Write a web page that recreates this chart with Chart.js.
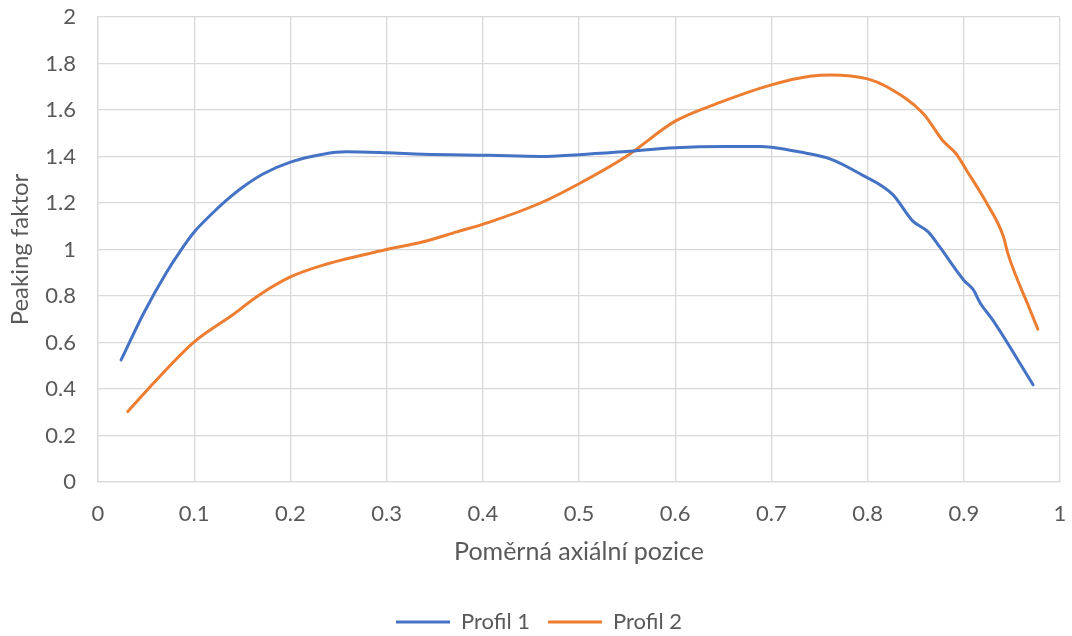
<!DOCTYPE html>
<html>
<head>
<meta charset="utf-8">
<script src="https://cdn.jsdelivr.net/npm/chart.js@4"></script>
<style>
  html, body { margin: 0; padding: 0; background: #fff; }
  #wrap { width: 1072px; height: 636px; position: relative; }
</style>
</head>
<body>
<div id="wrap"><canvas id="peaking"></canvas></div>
<script>
// Profil 1
let profil1X = [0.024, 0.048, 0.071, 0.085, 0.1, 0.12, 0.133, 0.151, 0.172, 0.2, 0.234, 0.258, 0.3, 0.338, 0.407, 0.46, 0.5, 0.549, 0.6, 0.653, 0.688, 0.7, 0.73, 0.761, 0.792, 0.826, 0.847, 0.863, 0.875, 0.9, 0.91, 0.917, 0.93, 0.972];
let profil1Y = [0.525, 0.73, 0.90, 0.99, 1.075, 1.16, 1.21, 1.27, 1.326, 1.376, 1.41, 1.42, 1.416, 1.41, 1.405, 1.40, 1.408, 1.422, 1.438, 1.443, 1.443, 1.44, 1.419, 1.39, 1.326, 1.237, 1.122, 1.076, 1.011, 0.868, 0.826, 0.77, 0.697, 0.418];

// Profil 2
let profil2X = [0.031, 0.061, 0.1, 0.142, 0.165, 0.2, 0.234, 0.3, 0.338, 0.373, 0.407, 0.46, 0.5, 0.549, 0.6, 0.643, 0.7, 0.74, 0.762, 0.8, 0.82, 0.858, 0.878, 0.892, 0.903, 0.923, 0.941, 0.946, 0.969, 0.977];
let profil2Y = [0.303, 0.44, 0.603, 0.725, 0.797, 0.882, 0.933, 1.0, 1.033, 1.076, 1.118, 1.2, 1.283, 1.40, 1.552, 1.627, 1.708, 1.745, 1.751, 1.734, 1.70, 1.584, 1.469, 1.412, 1.34, 1.205, 1.058, 0.98, 0.739, 0.657];

let seriesNames = ["Profil 1", "Profil 2"];
let seriesColors = ["#4472C4", "#ED7D31"];

Chart.defaults.font.family = "Lato, 'Open Sans', sans-serif";
Chart.defaults.font.size = 22;
Chart.defaults.color = "#595959";

let toPoints = (xs, ys) => xs.map((x, i) => ({ x: x, y: ys[i] }));
let fmt = (v) => String(+Number(v).toFixed(1));

let ctx = document.getElementById("peaking").getContext("2d");

let peakingChart = new Chart(ctx, {
  type: "line",
  data: {
    datasets: [
      {
        label: seriesNames[0],
        data: toPoints(profil1X, profil1Y),
        borderColor: seriesColors[0],
        backgroundColor: seriesColors[0],
        borderWidth: 3,
      },
      {
        label: seriesNames[1],
        data: toPoints(profil2X, profil2Y),
        borderColor: seriesColors[1],
        backgroundColor: seriesColors[1],
        borderWidth: 3,
      },
    ],
  },
  options: {
    responsive: true,
    maintainAspectRatio: false,
    animation: false,
    layout: {
      padding: { top: 0, right: 0, left: 6, bottom: -7 },
    },
    elements: {
      point: { radius: 0 },
      line: {
        cubicInterpolationMode: "monotone",
        borderCapStyle: "round",
        borderJoinStyle: "round",
        fill: false,
      },
    },
    scales: {
      x: {
        type: "linear",
        min: 0,
        max: 1,
        ticks: { stepSize: 0.1, padding: 21, callback: fmt, font: { size: 22, lineHeight: 1 } },
        grid: { color: "#d9d9d9", lineWidth: 1.3, drawTicks: false },
        border: { color: "#d9d9d9", width: 1.3 },
        title: {
          display: true,
          text: "Poměrná axiální pozice",
          font: { size: 25 },
          padding: { top: 0, bottom: 26 },
        },
        afterFit: (scale) => {
          scale.height = 111;
          scale.paddingLeft = 0;
          scale.paddingRight = 12;
        },
      },
      y: {
        min: 0,
        max: 2,
        ticks: { stepSize: 0.2, padding: 22, callback: fmt, font: { size: 22, lineHeight: 1 } },
        grid: { color: "#d9d9d9", lineWidth: 1.3, drawTicks: false },
        border: { color: "#d9d9d9", width: 1.3 },
        title: {
          display: true,
          text: "Peaking faktor",
          font: { size: 24 },
          padding: { top: 0, bottom: 8 },
        },
        afterFit: (scale) => {
          scale.width = 92;
          scale.paddingTop = 17;
          scale.paddingBottom = 0;
        },
      },
    },
    plugins: {
      legend: {
        position: "bottom",
        labels: {
          usePointStyle: true,
          pointStyle: "line",
          pointStyleWidth: 54,
          boxWidth: 44,
          padding: 18,
          font: { size: 22 },
        },
      },
      tooltip: { enabled: false },
    },
  },
});
</script>
</body>
</html>
